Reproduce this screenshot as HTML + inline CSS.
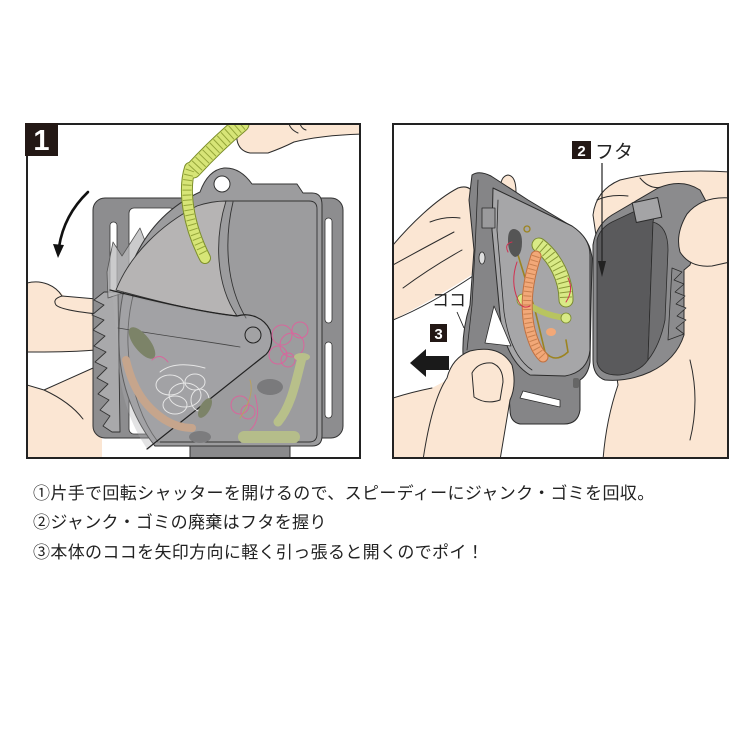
<!DOCTYPE html>
<html><head><meta charset="utf-8">
<style>
html,body{margin:0;padding:0;background:#fff;}
svg{display:block;}
</style></head>
<body>
<svg width="750" height="750" viewBox="0 0 750 750" xmlns="http://www.w3.org/2000/svg">
<defs>
<clipPath id="c1"><rect x="27" y="124" width="333" height="334"/></clipPath>
<clipPath id="c2"><rect x="393" y="124" width="335" height="334"/></clipPath>
</defs>
<rect width="750" height="750" fill="#fff"/>

<!-- ================= PANEL 1 ================= -->
<g clip-path="url(#c1)" stroke-linejoin="round" stroke-linecap="round">
  <!-- left upper hand -->
  <path d="M27,283 C42,279 56,286 64,296 L108,302 L108,350 C80,352 50,352 27,352 Z" fill="#fbe6d3"/>
  <path d="M27,283 C42,279 56,286 62,296" fill="none" stroke="#2b2b2b"/>
  <path d="M108,300 L62,296 Q52,299 56,305 Q62,311 108,315" fill="#fbe6d3" stroke="#2b2b2b"/>
  <path d="M27,352 C50,352 80,352 106,349" fill="none" stroke="#2b2b2b"/>
  <!-- left lower hand -->
  <path d="M27,385 L44,390 L102,364 L102,458 L27,458 Z" fill="#fbe6d3"/>
  <path d="M27,385 L44,390 L102,364" fill="none" stroke="#2b2b2b"/>
  <path d="M44,390 Q70,402 83,419" fill="none" stroke="#2b2b2b"/>
  <!-- top right hand -->
  <path d="M236,120 L237,140 Q239,151 250,153 L268,153 Q282,148 294,142 Q322,135 364,134 L364,120 Z" fill="#fbe6d3" stroke="#2b2b2b"/>
  <path d="M289,124 Q291,130 298,133" fill="none" stroke="#2b2b2b"/>
  <path d="M300,124 Q302,129 306,130" fill="none" stroke="#2b2b2b"/>

  <!-- rotation arrow -->
  <path d="M88,192 Q64,215 59,247" stroke="#111" stroke-width="2.6" fill="none"/>
  <polygon points="53,244 64,245 58,258" fill="#111"/>

  <!-- frame (belt clip) -->
  <rect x="93" y="198" width="250" height="240" rx="12" fill="#8d8d8f" stroke="#333"/>
  <rect x="110" y="222" width="7" height="200" rx="3.5" fill="#fff" stroke="#333" stroke-width="0.8"/>
  <rect x="129" y="208" width="46" height="226" rx="5" fill="#fff" stroke="#333" stroke-width="0.8"/>
  <rect x="325" y="218" width="7" height="105" rx="3.5" fill="#fff" stroke="#333" stroke-width="0.8"/>
  <rect x="325" y="342" width="7" height="76" rx="3.5" fill="#fff" stroke="#333" stroke-width="0.8"/>
  <!-- bottom tab -->
  <rect x="190" y="440" width="100" height="20" fill="#8a8a8c" stroke="#333"/>

  <!-- teeth (shutter edge) -->
  <polygon points="118,292 104,292 94,300 104,305 92,315 104,320 93,330 105,336 94,346 106,352 95,362 107,368 97,378 108,384 98,394 109,400 100,410 110,416 103,426 112,432 120,432" fill="#a9a9ab" stroke="#333" stroke-width="0.9"/>
  <!-- translucent upper shutter pieces -->
  <polygon points="107,272 113,242 122,256 140,228 147,246 132,290 108,298" fill="#b9b9bb" fill-opacity="0.75" stroke="#555" stroke-width="0.8"/>

  <!-- body -->
  <path d="M200,192 Q208,170 224,168 Q240,167 252,184 L297,184 L303,193 L312,193 Q322,193 322,205 L322,436 Q322,446 312,446 L155,446 C138,425 120,390 119,345 C117,280 140,220 200,192 Z" fill="#9c9c9e" stroke="#333"/>
  <circle cx="222" cy="184" r="8" fill="#fff" stroke="#333"/>
  <!-- inner cavity outline -->
  <path d="M226,201 L309,201 Q317,201 317,209 L317,434 Q317,442 309,442 L160,442" fill="none" stroke="#333" stroke-width="0.9"/>
  <path d="M193,208 C150,235 126,290 128,345 C130,395 145,425 158,442" fill="none" stroke="#444" stroke-width="0.9"/>

  <!-- lighter window -->
  <path d="M197,206 Q212,201 226,201 C214,240 216,285 237,316 C200,312 160,302 116,290 C130,255 160,225 197,206 Z" fill="#b6b4b4" stroke="#333" stroke-width="0.9"/>
  <path d="M233,202 C224,240 226,285 246,318" fill="none" stroke="#333" stroke-width="0.9"/>

  <!-- blade overlay -->
  <path d="M112,292 C150,302 200,314 237,317 C250,312 264,318 270,330 C274,342 270,352 264,356 L148,450 C130,425 118,390 117,345 Z" fill="#b0b0b2" fill-opacity="0.35"/>
  <path d="M110,290 C150,300 200,312 237,316 C250,312 264,318 270,330 C274,342 270,352 264,356 L147,449" fill="none" stroke="#222" stroke-width="1.2"/>
  <path d="M240,347 C210,342 160,335 118,328" fill="none" stroke="#444" stroke-width="0.8"/>
  <circle cx="253" cy="335" r="8" fill="#a2a2a4" stroke="#222"/>

  <!-- debris -->
  <ellipse cx="142" cy="343" rx="19" ry="8" transform="rotate(52 142 343)" fill="#7c8368"/>
  <path d="M126,360 C132,385 142,405 165,420 C175,426 185,428 192,428" stroke="#c6a58c" stroke-width="8" fill="none"/>
  <g fill="none" stroke="#e6e6e6" stroke-width="1">
    <ellipse cx="170" cy="385" rx="14" ry="10"/>
    <ellipse cx="185" cy="395" rx="16" ry="12"/>
    <ellipse cx="175" cy="405" rx="12" ry="9"/>
    <ellipse cx="195" cy="382" rx="10" ry="8"/>
    <ellipse cx="200" cy="400" rx="9" ry="11"/>
    <path d="M160,372 Q175,360 205,368"/>
  </g>
  <g fill="none" stroke="#d8669c" stroke-width="1">
    <circle cx="282" cy="335" r="10"/>
    <circle cx="292" cy="345" r="12"/>
    <circle cx="278" cy="355" r="9"/>
    <circle cx="300" cy="330" r="8"/>
    <circle cx="288" cy="360" r="7"/>
    <circle cx="240" cy="405" r="9"/>
    <circle cx="248" cy="412" r="7"/>
    <path d="M152,360 Q160,352 168,362"/>
    <path d="M255,395 Q262,420 250,430"/>
  </g>
  <path d="M302,358 C296,380 292,405 278,422" stroke="#b8c08a" stroke-width="9" fill="none"/>
  <ellipse cx="302" cy="357" rx="8" ry="4" fill="#b8c08a"/>
  <rect x="238" y="431" width="62" height="12" rx="6" fill="#b5bd8a"/>
  <ellipse cx="270" cy="387" rx="13" ry="8" fill="#7a7a7c"/>
  <ellipse cx="200" cy="437" rx="11" ry="6" fill="#7c7c7e"/>
  <ellipse cx="205" cy="408" rx="5" ry="11" transform="rotate(30 205 408)" fill="#7c8368"/>
  <path d="M240,418 Q255,395 250,380" stroke="#b8a060" stroke-width="1" fill="none"/>

  <!-- yellow worm -->
  <path d="M241,124 Q216,145 193,170" stroke="#7d8f2c" stroke-width="17" fill="none"/>
  <path d="M190,168 C183,190 188,225 205,258" stroke="#7d8f2c" stroke-width="12" fill="none"/>
  <path d="M241,124 Q216,145 193,170" stroke="#d7e577" stroke-width="15" fill="none"/>
  <path d="M190,168 C183,190 188,225 205,258" stroke="#d7e577" stroke-width="10" fill="none"/>
  <path d="M241,124 Q216,145 193,170" stroke="#95a63a" stroke-width="14" fill="none" stroke-dasharray="1 4" stroke-linecap="butt"/>
  <path d="M190,170 C183,190 188,225 205,256" stroke="#95a63a" stroke-width="9" fill="none" stroke-dasharray="1 4" stroke-linecap="butt"/>
</g>
<rect x="27" y="124" width="333" height="334" fill="none" stroke="#222" stroke-width="2"/>
<rect x="25" y="123" width="33" height="33" fill="#231815"/>
<text x="41.5" y="150" text-anchor="middle" font-family="Liberation Sans, sans-serif" font-weight="bold" font-size="29" fill="#fff">1</text>

<!-- ================= PANEL 2 ================= -->
<g clip-path="url(#c2)" stroke-linejoin="round" stroke-linecap="round">
  <!-- left upper hand -->
  <path d="M393,245 C410,225 435,200 458,188 Q470,184 474,192 L476,272 Q440,296 393,320 Z" fill="#fbe6d3"/>
  <path d="M393,245 C410,225 435,200 458,188 Q470,184 474,195" fill="none" stroke="#2b2b2b"/>
  <path d="M393,320 Q430,305 476,274" fill="none" stroke="#2b2b2b"/>
  <path d="M393,265 Q420,250 454,232" fill="none" stroke="#2b2b2b"/>
  <path d="M403,288 Q430,268 462,250" fill="none" stroke="#2b2b2b"/>
  <path d="M430,222 Q445,216 460,218" fill="none" stroke="#2b2b2b"/>
  <!-- knob behind case -->
  <path d="M500,192 Q500,176 508,175 Q516,176 516,192 Z" fill="#fbe6d3" stroke="#2b2b2b"/>

  <!-- right hand -->
  <path d="M593,215 Q596,190 620,180 Q670,168 730,172 L730,460 L603,460 Q606,420 618,385 Z" fill="#fbe6d3" stroke="#2b2b2b"/>
  <path d="M597,200 Q610,194 628,196" fill="none" stroke="#2b2b2b"/>
  <path d="M640,178 Q650,190 662,187" fill="none" stroke="#2b2b2b"/>
  <path d="M690,360 Q700,400 690,440" fill="none" stroke="#2b2b2b"/>

  <!-- lid -->
  <path d="M593,245 Q596,225 612,215 L658,188 Q682,178 700,190 L708,205 L690,265 L684,270 L684,335 Q676,360 650,372 Q628,382 605,380 Q593,376 593,360 Z" fill="#8b8b8d" stroke="#2b2b2b"/>
  <path d="M597,240 Q600,228 612,222 L648,205 Q656,210 653,222 L648,360 Q640,372 620,375 Q600,376 597,362 Z" fill="#5a5a5c" stroke="#2b2b2b" stroke-width="0.8"/>
  <path d="M653,222 Q668,226 668,250 L665,320 Q660,345 648,360 Z" fill="#6f6f71" stroke="#2b2b2b" stroke-width="0.8"/>
  <polygon points="672,268 682,272 674,280 684,284 675,292 685,296 676,304 686,308 677,316 686,320 676,328 684,334 668,340" fill="#8b8b8d" stroke="#2b2b2b" stroke-width="0.8"/>
  <rect x="634" y="200" width="26" height="20" fill="#a4a4a6" stroke="#2b2b2b" transform="rotate(-12 647 210)"/>
  <!-- thumb over lid -->
  <path d="M730,198 Q702,196 687,214 Q675,234 680,252 Q690,268 712,266 L730,262 Z" fill="#fbe6d3" stroke="#2b2b2b"/>

  <!-- case left piece: outer frame -->
  <path d="M472,175 Q479,170 491,176 L528,200 L568,224 Q590,236 592,258 L590,362 Q588,375 580,380 L580,410 Q578,424 564,424 L520,424 Q510,422 510,410 L508,378 Q492,368 478,356 L463,354 Q462,330 470,305 L474,250 L469,200 Z" fill="#858587" stroke="#2b2b2b"/>
  <path d="M478,180 L475,250 L472,305 L467,350" fill="none" stroke="#2b2b2b" stroke-width="0.8"/>
  <!-- inner body -->
  <path d="M493,188 L572,226 Q590,238 590,255 L590,350 Q588,372 565,376 L530,375 Q505,360 500,315 L492,230 Z" fill="#a6a6a8" stroke="#2b2b2b"/>
  <path d="M498,200 L497,230 L504,312 Q510,355 532,370" fill="none" stroke="#2b2b2b" stroke-width="0.8"/>
  <polygon points="494,306 485,343 511,346" fill="#fff" stroke="#2b2b2b" stroke-width="0.8"/>
  <polygon points="523,391 560,400 560,407 520,398" fill="#fff" stroke="#2b2b2b" stroke-width="0.8"/>
  <rect x="573" y="378" width="6" height="10" rx="2" fill="#666"/>
  <rect x="482" y="208" width="13" height="20" fill="#9a9a9c" stroke="#2b2b2b" stroke-width="0.8"/>
  <ellipse cx="482" cy="258" rx="3" ry="6" fill="#ddd" stroke="#2b2b2b" stroke-width="0.8"/>

  <!-- items -->
  <path d="M518,255 L535,310 L545,352 Q555,364 568,352 L566,340" stroke="#9c8420" stroke-width="1.6" fill="none"/>
  <circle cx="527" cy="229" r="3" fill="none" stroke="#9c8420" stroke-width="1.3"/>
  <path d="M514,229 Q522,230 522,242 Q522,256 515,257 Q508,254 508,240 Q508,229 514,229 Z" fill="#555"/>
  <path d="M539,245 C556,258 566,280 566,300" stroke="#7a8a30" stroke-width="15" fill="none"/>
  <path d="M539,245 C556,258 566,280 566,300" stroke="#d9ea86" stroke-width="13" fill="none"/>
  <path d="M539,245 C556,258 566,280 566,300" stroke="#8a9a38" stroke-width="12" fill="none" stroke-dasharray="1 4" stroke-linecap="butt"/>
  <path d="M523,300 Q540,315 566,318" stroke="#b8c460" stroke-width="6" fill="none"/>
  <circle cx="523" cy="300" r="6" fill="#d9ea86" stroke="#7a8a30" stroke-width="0.8"/>
  <circle cx="566" cy="318" r="5" fill="#d9ea86" stroke="#7a8a30" stroke-width="0.8"/>
  <path d="M536,256 C528,280 524,305 530,330 C534,345 538,352 543,357" stroke="#c07040" stroke-width="11" fill="none"/>
  <path d="M536,256 C528,280 524,305 530,330 C534,345 538,352 543,357" stroke="#f2a878" stroke-width="9" fill="none"/>
  <path d="M536,256 C528,280 524,305 530,330 C534,345 538,352 543,357" stroke="#c88050" stroke-width="8" fill="none" stroke-dasharray="1 3.5" stroke-linecap="butt"/>
  <ellipse cx="551" cy="332" rx="5" ry="4" fill="#f2a878"/>
  <g fill="none" stroke="#d23050" stroke-width="1">
    <path d="M508,252 Q504,244 512,242"/>
    <path d="M517,262 Q510,282 518,300 Q522,310 530,306"/>
    <path d="M568,278 Q574,290 566,302"/>
  </g>

  <!-- lower left skin + thumb -->
  <path d="M393,398 Q412,392 432,388 L447,380 Q452,358 470,351 Q500,344 512,365 Q517,385 510,400 L500,460 L393,460 Z" fill="#fbe6d3"/>
  <path d="M393,398 Q412,392 432,388" fill="none" stroke="#2b2b2b"/>
  <path d="M423,460 Q432,400 447,378 Q452,358 470,351 Q500,344 512,365 Q517,385 510,400 L500,460" fill="none" stroke="#2b2b2b"/>
  <path d="M472,373 Q478,362 492,363 Q503,367 503,382 L500,400 Q486,405 474,397 Z" fill="none" stroke="#2b2b2b"/>
</g>
<rect x="393" y="124" width="335" height="334" fill="none" stroke="#222" stroke-width="2"/>

<!-- labels panel 2 -->
<rect x="572" y="141" width="19" height="18" fill="#231815"/>
<text x="581.5" y="156" text-anchor="middle" font-family="Liberation Sans, sans-serif" font-weight="bold" font-size="15" fill="#fff">2</text>
<text x="595" y="158" font-family="Liberation Sans, 'Noto Sans CJK JP', sans-serif" font-size="19" fill="#222">フタ</text>
<line x1="602" y1="163" x2="602" y2="264" stroke="#222" stroke-width="1.2"/>
<polygon points="598,261 606,261 602,277" fill="#222"/>

<text x="432" y="306" font-family="Liberation Sans, 'Noto Sans CJK JP', sans-serif" font-size="17" fill="#222">ココ</text>
<line x1="457" y1="312" x2="464" y2="328" stroke="#222" stroke-width="0.9"/>
<rect x="430" y="324" width="17" height="18" fill="#231815"/>
<text x="438.5" y="339" text-anchor="middle" font-family="Liberation Sans, sans-serif" font-weight="bold" font-size="15" fill="#fff">3</text>
<polygon points="410,363 426,349 426,356 449,356 449,370 426,370 426,377" fill="#1a1a1a"/>

<!-- caption text -->
<g font-family="Liberation Sans, 'Noto Sans CJK JP', sans-serif" font-size="17" fill="#222" letter-spacing="0.35">
  <text x="33" y="499">①片手で回転シャッターを開けるので、スピーディーにジャンク・ゴミを回収。</text>
  <text x="33" y="528">②ジャンク・ゴミの廃棄はフタを握り</text>
  <text x="33" y="558">③本体のココを矢印方向に軽く引っ張ると開くのでポイ！</text>
</g>
</svg>
</body></html>
